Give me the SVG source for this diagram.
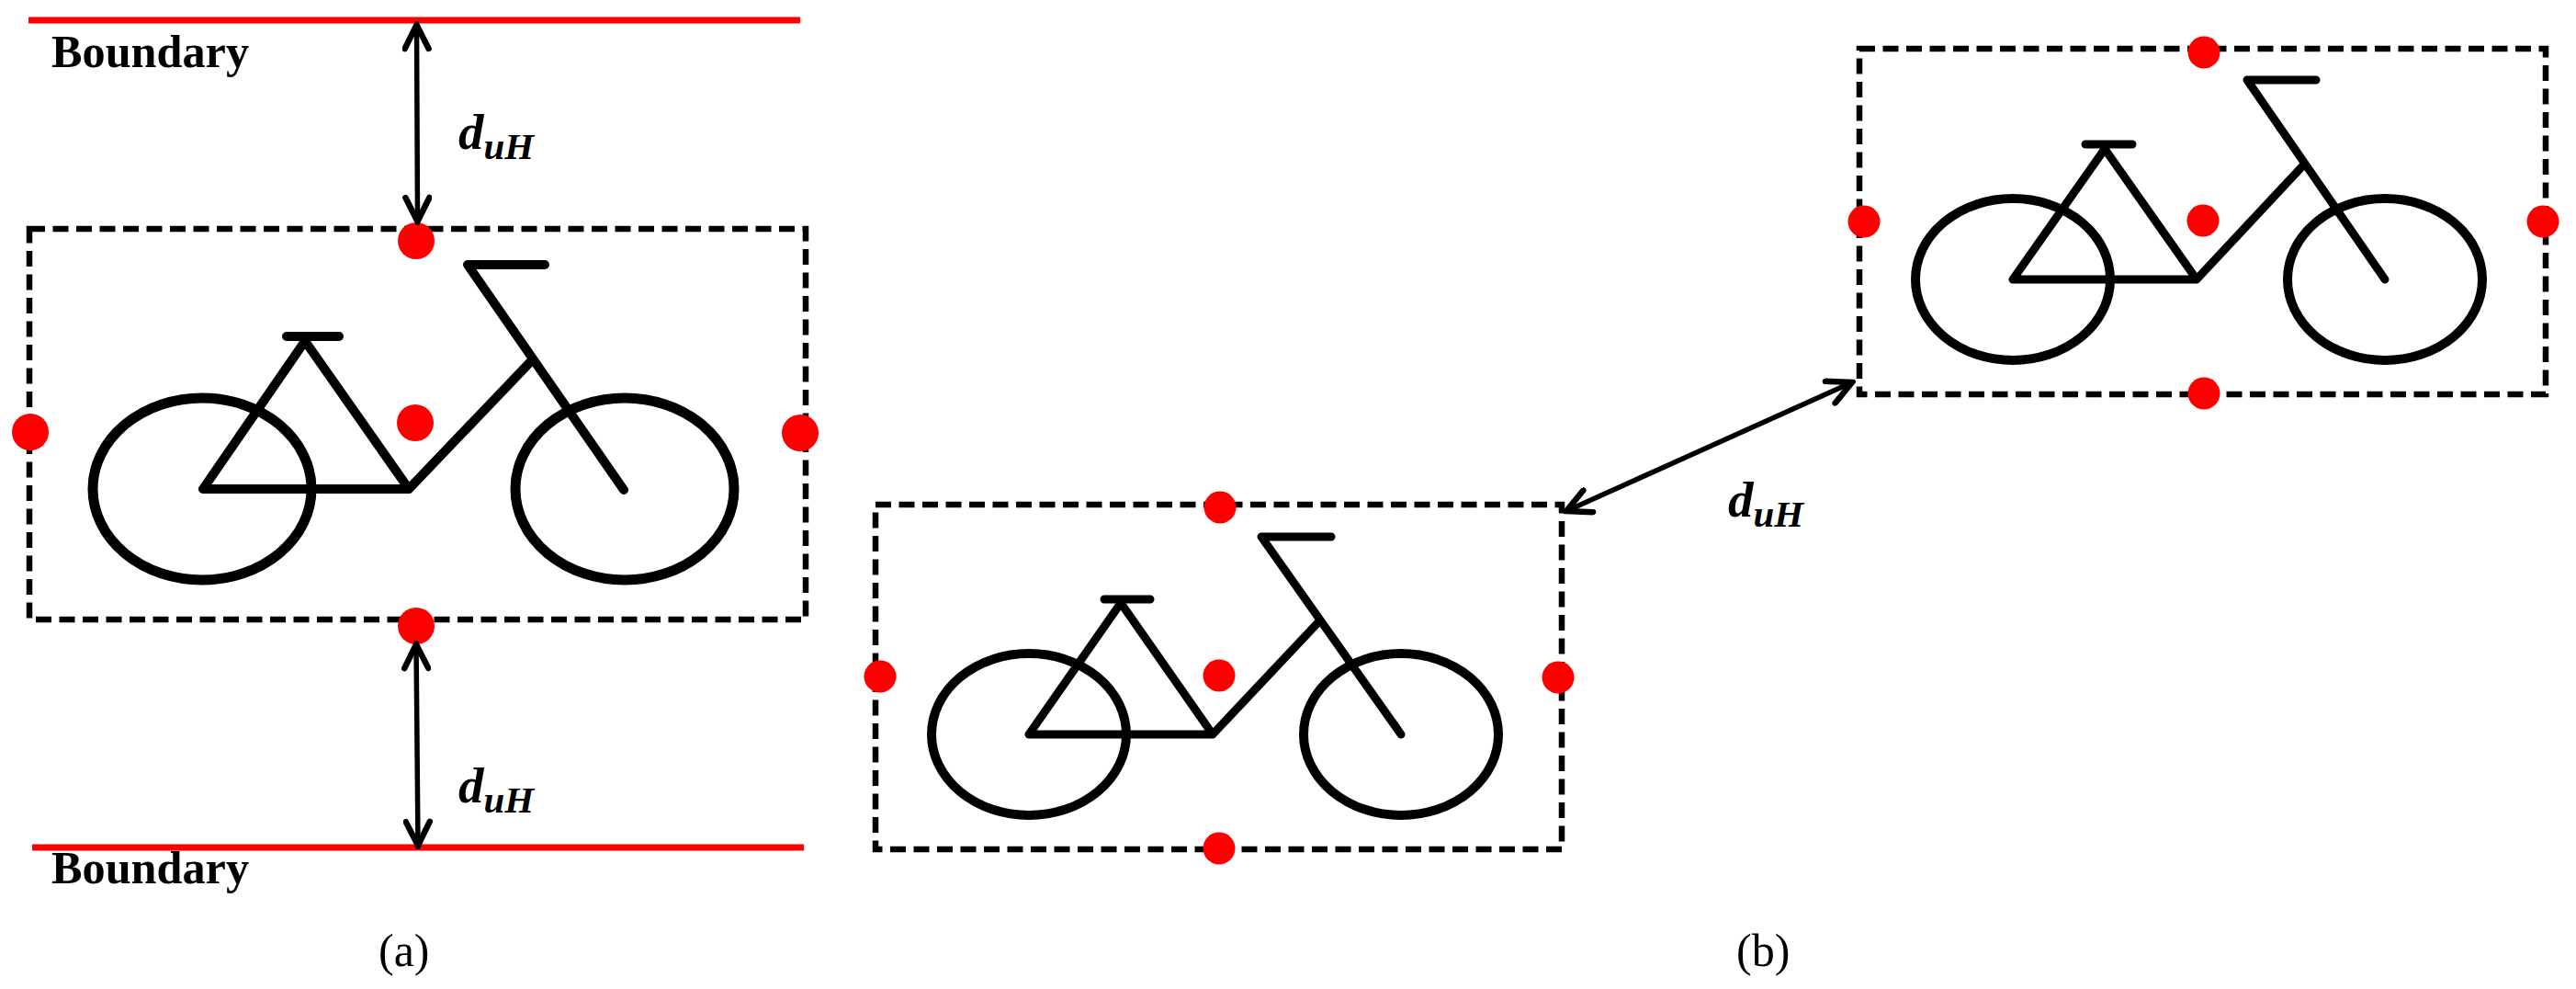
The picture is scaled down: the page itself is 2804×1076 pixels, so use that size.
<svg xmlns="http://www.w3.org/2000/svg" width="2804" height="1076" viewBox="0 0 2804 1076">
<style>
.frame{fill:none;stroke:#000;stroke-width:6.5;stroke-dasharray:17 8.5}
.wheel{fill:none;stroke:#000}
.bar{fill:none;stroke:#000;stroke-linecap:round;stroke-linejoin:round}
.dot{fill:#f00}
.bound{stroke:#f00;stroke-width:7}
.arrow{stroke:#000;stroke-width:5.5;fill:none;marker-start:url(#head);marker-end:url(#head)}
.lab{font-family:"Liberation Serif",serif;font-weight:bold;font-size:50px;fill:#000}
.sym{font-family:"Liberation Serif",serif;font-weight:bold;font-style:italic;font-size:55px;fill:#000}
.sub{font-size:41px}
.cap{font-family:"Liberation Serif",serif;font-size:50px;fill:#000}
</style>
<defs>
<marker id="head" viewBox="-30 -16 34 32" refX="0" refY="0" markerWidth="34" markerHeight="32" markerUnits="userSpaceOnUse" orient="auto-start-reverse">
<path d="M-26 -13L0 0L-26 13" fill="none" stroke="#000" stroke-width="6.5" stroke-linecap="round" stroke-linejoin="miter"/>
</marker>
</defs>
<rect width="2804" height="1076" fill="#fff"/>
<g id="boundary-top"><line class="bound" x1="31" y1="22" x2="871" y2="22"/><text class="lab" x="56" y="73" textLength="215" lengthAdjust="spacingAndGlyphs">Boundary</text></g>
<g id="boundary-bottom"><line class="bound" x1="35" y1="922" x2="875" y2="922"/><text class="lab" x="56" y="961" textLength="215" lengthAdjust="spacingAndGlyphs">Boundary</text></g>
<g id="bike-a">
<rect class="frame" x="32" y="249" width="845" height="425"/>
<ellipse class="wheel" stroke-width="11" cx="220" cy="532" rx="119" ry="99"/>
<ellipse class="wheel" stroke-width="11" cx="680" cy="532" rx="119" ry="99"/>
<path class="bar" stroke-width="10" d="M221 532H445L332 371L221 532M445 532L578 393"/>
<path class="bar" stroke-width="10" d="M593 288H509L679 533M312 366H369"/>
<circle class="dot" cx="453" cy="262" r="20"/><circle class="dot" cx="452" cy="460" r="20"/><circle class="dot" cx="33" cy="470" r="20"/><circle class="dot" cx="871" cy="471" r="20"/><circle class="dot" cx="453" cy="681" r="20"/>
</g>
<g id="bike-b">
<rect class="frame" x="953" y="549" width="747" height="375"/>
<ellipse class="wheel" stroke-width="10" cx="1120" cy="799" rx="106" ry="88"/>
<ellipse class="wheel" stroke-width="10" cx="1525" cy="799" rx="106" ry="88"/>
<path class="bar" stroke-width="9" d="M1120 799H1320L1220 656L1120 799M1320 799L1435 677"/>
<path class="bar" stroke-width="9" d="M1449 584H1373L1525 799M1202 652H1252"/>
<circle class="dot" cx="1328" cy="552" r="17.5"/><circle class="dot" cx="1327" cy="735" r="17.5"/><circle class="dot" cx="958" cy="736" r="17.5"/><circle class="dot" cx="1696" cy="737" r="17.5"/><circle class="dot" cx="1327" cy="923" r="17.5"/>
</g>
<g id="bike-c">
<rect class="frame" x="2024" y="53" width="747" height="376"/>
<ellipse class="wheel" stroke-width="10" cx="2191" cy="304" rx="106" ry="88"/>
<ellipse class="wheel" stroke-width="10" cx="2596" cy="304" rx="106" ry="88"/>
<path class="bar" stroke-width="9" d="M2191 304H2391L2291 162L2191 304M2391 304L2507 180"/>
<path class="bar" stroke-width="9" d="M2521 87H2446L2596 304M2270 157H2321"/>
<circle class="dot" cx="2399" cy="57" r="17.5"/><circle class="dot" cx="2398" cy="240" r="17.5"/><circle class="dot" cx="2029" cy="241" r="17.5"/><circle class="dot" cx="2768" cy="241" r="17.5"/><circle class="dot" cx="2399" cy="428" r="17.5"/>
</g>
<g id="connectors">
<line class="arrow" x1="453.5" y1="27" x2="454.5" y2="241"/>
<line class="arrow" x1="453" y1="701" x2="455" y2="920"/>
<line class="arrow" x1="1705" y1="556" x2="2016" y2="416"/>
</g>
<g id="labels">
<text class="sym" x="499" y="162">d<tspan class="sub" dy="11">uH</tspan></text>
<text class="sym" x="499" y="873">d<tspan class="sub" dy="11">uH</tspan></text>
<text class="sym" x="1881" y="562">d<tspan class="sub" dy="11">uH</tspan></text>
<text class="cap" x="412" y="1051">(a)</text>
<text class="cap" x="1890" y="1051">(b)</text>
</g>
</svg>
